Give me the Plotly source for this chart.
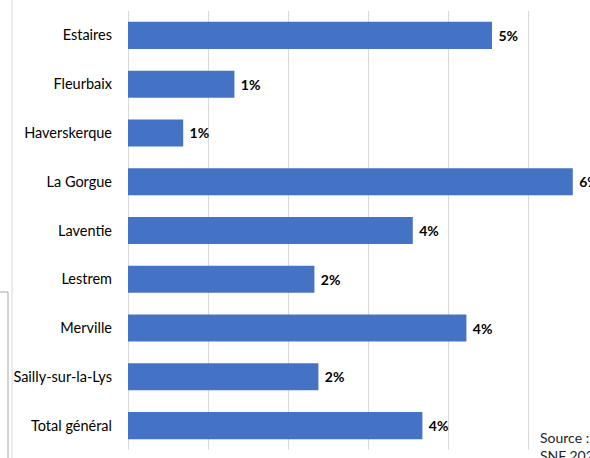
import plotly.graph_objects as go

categories = ["Estaires", "Fleurbaix", "Haverskerque", "La Gorgue", "Laventie",
              "Lestrem", "Merville", "Sailly-sur-la-Lys", "Total général"]
values = [0.0455, 0.0133, 0.0069, 0.0556, 0.0356, 0.0233, 0.0423, 0.0238, 0.0368]
source_text = "Source :<br>SNF 2020"

W, H = 590, 458
L, R, T, B = 128, 0, 11, 8
pw = W - L - R
ph = H - T - B

def px_x(x):
    return (x - L) / pw

def px_y(y):
    return (H - B - y) / ph

FONT = "Lato, 'Open Sans', Liberation Sans, sans-serif"

fig = go.Figure(go.Bar(
    y=categories, x=values, orientation="h",
    marker=dict(color="#4472C4", line=dict(width=0)),
    width=0.555,
    texttemplate=" %{x:.0%}", textposition="outside",
    textfont=dict(family=FONT, size=14, color="#000000", weight="bold"),
    constraintext="none", cliponaxis=True,
))

fig.update_layout(
    width=W, height=H,
    margin=dict(l=L, r=R, t=T, b=B, pad=0, autoexpand=False),
    paper_bgcolor="white", plot_bgcolor="white",
    showlegend=False,
    font=dict(family=FONT, size=14, color="#000000"),
    xaxis=dict(range=[0, pw / 80 / 100], dtick=0.01, showticklabels=False,
               showgrid=True, gridcolor="#d9d9d9", gridwidth=1,
               zeroline=True, zerolinecolor="#d9d9d9", zerolinewidth=1,
               showline=False, fixedrange=True, automargin=False),
    yaxis=dict(autorange="reversed", showgrid=False, showline=False,
               ticks="", ticklabelstandoff=15, automargin=False,
               tickfont=dict(family=FONT, size=14.5, color="#000000")),
    shapes=[
        dict(type="line", xref="paper", yref="paper",
             x0=px_x(12), x1=px_x(12), y0=px_y(0), y1=px_y(458),
             line=dict(color="#d9d9d9", width=1)),
        dict(type="line", xref="paper", yref="paper",
             x0=px_x(8), x1=px_x(8), y0=px_y(292), y1=px_y(458),
             line=dict(color="#a6a6a6", width=1)),
        dict(type="line", xref="paper", yref="paper",
             x0=px_x(0), x1=px_x(8), y0=px_y(292), y1=px_y(292),
             line=dict(color="#a6a6a6", width=1)),
    ],
    annotations=[dict(
        text=source_text, xref="paper", yref="paper",
        x=px_x(538), y=px_y(427), xanchor="left", yanchor="top",
        align="left", showarrow=False,
        font=dict(family=FONT, size=14, color="#262626"),
    )],
)

fig.write_html("out.html", config={"displayModeBar": False},
               post_script="document.body.style.margin='0';document.body.style.overflow='hidden';")
